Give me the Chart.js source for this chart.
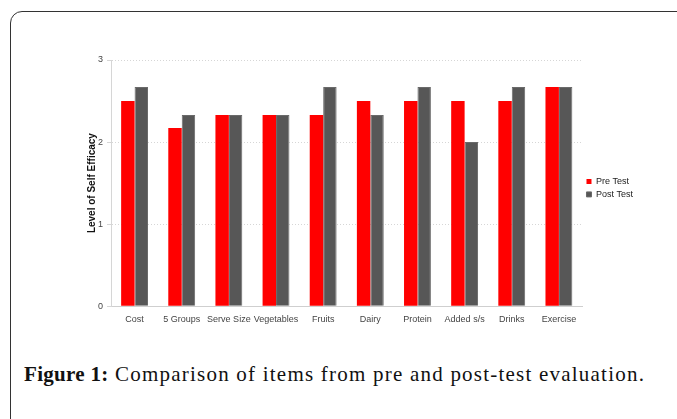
<!DOCTYPE html>
<html>
<head>
<meta charset="utf-8">
<script src="https://cdn.jsdelivr.net/npm/chart.js@4.4.1/dist/chart.umd.min.js"></script>
<style>
  body { margin: 0; background: #fff; width: 677px; height: 419px; overflow: hidden; position: relative; }
  #frame { position: absolute; left: 10px; top: 11px; width: 720px; height: 460px;
           border: 1.5px solid #333; border-top-left-radius: 12px; box-sizing: border-box; }
  #wrap { position: absolute; left: 0; top: 0; width: 677px; height: 337px; }
  #caption { position: absolute; left: 24px; top: 362px; font-family: "Liberation Serif", "DejaVu Serif", serif;
             font-size: 21px; letter-spacing: 1.22px; color: #111; white-space: nowrap; }
  #caption b { letter-spacing: 0.3px; }
</style>
</head>
<body>
<div id="frame"></div>
<div id="wrap"><canvas id="chart"></canvas></div>
<div id="caption"><b>Figure 1:</b> Comparison of items from pre and post-test evaluation.</div>
<script>
  // Chart data
  const categories = ["Cost", "5 Groups", "Serve Size", "Vegetables", "Fruits", "Dairy", "Protein", "Added s/s", "Drinks", "Exercise"];
  const preTest = [2.5, 2.17, 2.33, 2.33, 2.33, 2.5, 2.5, 2.5, 2.5, 2.67];
  const postTest = [2.67, 2.33, 2.33, 2.33, 2.67, 2.33, 2.67, 2.0, 2.67, 2.67];
  const yTicks = [0, 1, 2, 3];

  const tickFont = { family: "Liberation Sans, Arial, sans-serif", size: 9 };

  const ctx = document.getElementById("chart").getContext("2d");
  new Chart(ctx, {
    type: "bar",
    data: {
      labels: categories,
      datasets: [
        { label: "Pre Test", data: preTest, backgroundColor: "#ff0000", borderWidth: 0 },
        { label: "Post Test", data: postTest, backgroundColor: "#575757", borderColor: "#6a6a6a", borderWidth: 1 }
      ]
    },
    options: {
      responsive: true,
      maintainAspectRatio: false,
      animation: false,
      layout: { padding: { left: 86, top: 60, right: 34, bottom: 12 } },
      datasets: { bar: { barPercentage: 1, categoryPercentage: 0.57 } },
      plugins: {
        legend: {
          position: "right",
          align: "center",
          fullSize: false,
          // blank title just nudges the legend block down a bit
          title: { display: true, text: " ", font: { size: 8 }, padding: 0 },
          labels: { boxWidth: 5, boxHeight: 5, padding: 4, color: "#222", font: { family: "Liberation Sans, Arial, sans-serif", size: 9 } }
        },
        tooltip: { enabled: false }
      },
      scales: {
        x: {
          grid: { display: false },
          border: { color: "#cfcfcf" },
          ticks: { color: "#444", font: tickFont, maxRotation: 0, autoSkip: false, padding: 0 }
        },
        y: {
          min: 0, max: 3,
          afterBuildTicks: s => { s.ticks = yTicks.map(v => ({ value: v })); },
          afterFit: s => { s.width = 25; },
          grid: { color: "#d6d6d6", tickLength: 4 },
          border: { color: "#d6d6d6", dash: [1, 2] },
          ticks: { color: "#444", font: tickFont, padding: 4 },
          title: { display: true, text: "Level of Self Efficacy", color: "#111",
                   font: { family: "Liberation Sans, Arial, sans-serif", size: 10, weight: "bold" }, padding: 0 }
        }
      }
    }
  });
</script>
</body>
</html>
